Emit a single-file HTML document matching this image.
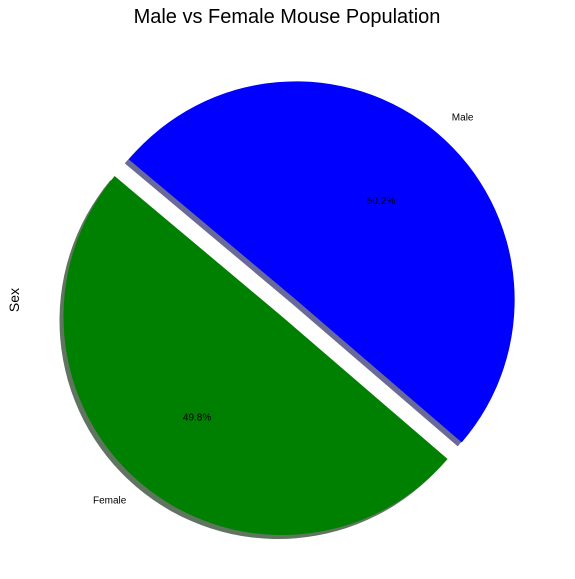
<!DOCTYPE html>
<html><head><meta charset="utf-8"><style>
body{margin:0;background:#fff;}
svg{display:block;font-family:"Liberation Sans",sans-serif;}
</style></head><body>
<svg id="chart" width="575" height="579">
<text x="287" y="23" text-anchor="middle" font-size="20" fill="#000">Male vs Female Mouse Population</text>
<text transform="translate(19,300) rotate(-90)" text-anchor="middle" font-size="14" fill="#000">Sex</text>
<g id="shadows"></g><g id="wedges"></g><g id="labels"></g>
</svg>
<script>
const categories = ["Female", "Male"];
const values = [49.8, 50.2];
const explode = [0, 0.1];
const colors = ["green", "blue"];
const shadowColors = ["#5f755f", "#6a6a98"];
const startAngle = 140;
const R = 218.5, cx = 282, cy = 316.5;
const ns = "http://www.w3.org/2000/svg";
const total = values.reduce((a,b)=>a+b,0);
function pt(x0,y0,r,deg){const a=deg*Math.PI/180;return [x0+r*Math.cos(a), y0-r*Math.sin(a)];}
function wedgePath(x0,y0,a1,a2){
  const p1=pt(x0,y0,R,a1), p2=pt(x0,y0,R,a2);
  const large=(a2-a1)>180?1:0;
  return `M${x0},${y0} L${p1[0]},${p1[1]} A${R},${R} 0 ${large} 0 ${p2[0]},${p2[1]} Z`;
}
let a = startAngle;
const sh=document.getElementById('shadows'), wg=document.getElementById('wedges'), lb=document.getElementById('labels');
values.forEach((v,i)=>{
  const sweep=v/total*360, mid=a+sweep/2;
  const off=pt(0,0,explode[i]*R,mid);
  const x0=cx+off[0], y0=cy+off[1];
  const s=document.createElementNS(ns,'path');
  s.setAttribute('d',wedgePath(x0-4,y0+4,a,a+sweep));
  s.setAttribute('fill',shadowColors[i]);
  
  
  sh.appendChild(s);
  const p=document.createElementNS(ns,'path');
  p.setAttribute('d',wedgePath(x0,y0,a,a+sweep));
  p.setAttribute('fill',colors[i]);
  
  
  wg.appendChild(p);
  const lp=pt(x0,y0,R*1.1,mid);
  const t=document.createElementNS(ns,'text');
  t.setAttribute('x',lp[0]);t.setAttribute('y',lp[1]+4);
  t.setAttribute('font-size','10');
  t.setAttribute('text-anchor',Math.cos(mid*Math.PI/180)>0?'start':'end');
  t.textContent=categories[i];
  
  
  lb.appendChild(t);
  const pp=pt(x0,y0,R*0.6,mid);
  const t2=document.createElementNS(ns,'text');
  t2.setAttribute('x',pp[0]);t2.setAttribute('y',pp[1]+4);
  t2.setAttribute('font-size','10');t2.setAttribute('text-anchor','middle');
  t2.textContent=v.toFixed(1)+'%';
  
  
  lb.appendChild(t2);
  a+=sweep;
});
</script>
</body></html>
